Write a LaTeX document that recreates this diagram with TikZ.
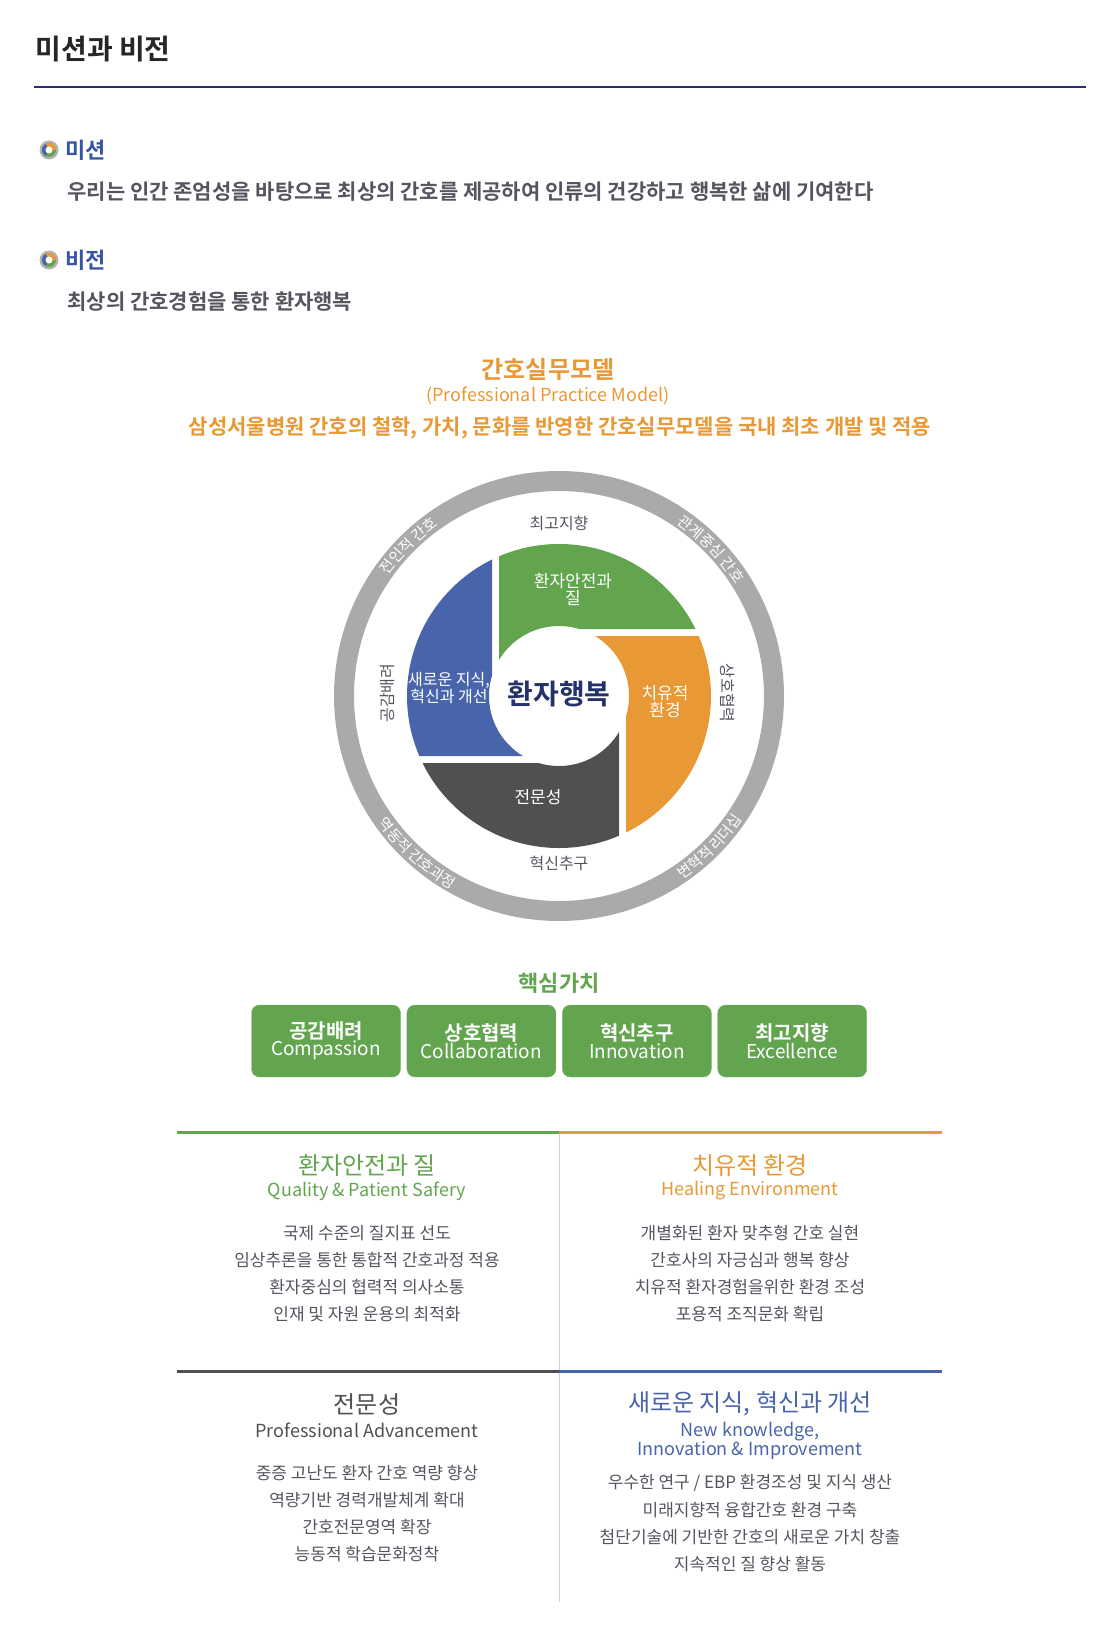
\documentclass[tikz,border=0pt]{standalone}
\usepackage{fontspec}
\setmainfont{Noto Sans CJK KR}[BoldFont={Noto Sans CJK KR Bold}]
\usetikzlibrary{positioning,decorations.text}
\definecolor{navy}{RGB}{35,50,105}
\definecolor{headblue}{RGB}{55,85,160}
\definecolor{bodygray}{RGB}{85,85,95}
\definecolor{ppmorange}{RGB}{232,152,52}
\definecolor{ppmgreen}{RGB}{98,165,78}
\definecolor{segblue}{RGB}{72,100,170}
\definecolor{seggray}{RGB}{80,80,82}
\definecolor{ringgray}{RGB}{170,170,170}
\tikzset{
    fs/.style={font=\fontsize{#1}{#1}\selectfont},
    fsb/.style={font=\fontsize{#1}{#1}\selectfont\bfseries},
    body/.style={text=bodygray, anchor=west, fsb=21},
    segtext/.style={text=white, align=center, fs=17},
    bandtext/.style={text=bodygray, fs=16},
    value/.style={fill=ppmgreen, draw=ppmgreen!80!white, rounded corners=8pt, minimum width=149pt, minimum height=72pt, text=white, align=center, inner sep=0pt},
    bullet/.style={text=bodygray, align=center, fs=17},
    ringlabel/.style={decorate, decoration={text along path, text align=center, text color=white, text format delimiters={|}{|}, text={|\fontsize{15}{15}\selectfont|#1}}}
}
\newcommand{\missionicon}[1]{%
    \fill[gray!60] #1 circle (9.5);
    \fill[ppmgreen] #1 circle (7);
    \fill[ppmorange] #1 -- ++(0:7) arc[start angle=0, end angle=-120, radius=7] -- cycle;
    \fill[segblue] #1 -- ++(-120:7) arc[start angle=-120, end angle=-240, radius=7] -- cycle;
    \fill[white] #1 circle (3.5);
}
\begin{document}
\begin{tikzpicture}[x=1pt, y=-1pt]
    \useasboundingbox (0,0) rectangle (1112,1640);

    % Header
    \node[anchor=west, fsb=28, text=black!85] (title) at (32,49) {미션과 비전};
    \draw[navy, line width=1.2pt] (34,87) -- (1086,87);

    % Mission and vision
    \missionicon{(49,150)}
    \node[anchor=west, text=headblue, fsb=22] (mission) at (62,150) {미션};
    \node[body] (missiontext) at (64,192) {우리는 인간 존엄성을 바탕으로 최상의 간호를 제공하여 인류의 건강하고 행복한 삶에 기여한다};
    \missionicon{(49,260)}
    \node[anchor=west, text=headblue, fsb=22] (vision) at (62,260) {비전};
    \node[body] (visiontext) at (64,302) {최상의 간호경험을 통한 환자행복};

    % Practice model title
    \node[text=ppmorange, fsb=24] (ppm) at (548,370) {간호실무모델};
    \node[text=ppmorange, fs=18] (ppmen) at (548,396) {(Professional Practice Model)};
    \node[text=ppmorange, fsb=21] (ppmsub) at (560,428) {삼성서울병원 간호의 철학, 가치, 문화를 반영한 간호실무모델을 국내 최초 개발 및 적용};

    % Model wheel
    \begin{scope}[shift={(559,696)}, x=1pt, y=1pt]
        \fill[ringgray, even odd rule] (0,0) circle (225) (0,0) circle (205);
        \foreach \segcol [count=\k from 0] in {ppmgreen, ppmorange, seggray, segblue} {
            \begin{scope}[rotate=-90*\k]
                \clip (-60,0) -- (-60,200) -- (200,200) -- (200,67) -- (0,67) -- (0,0) -- cycle;
                \fill[\segcol, even odd rule] (0,0) circle (152) (0,0) circle (70);
            \end{scope}
        }

        \node[segtext] (quality) at (14,106) {환자안전과\\질};
        \node[segtext] (healing) at (106,-6) {치유적\\환경};
        \node[segtext] (expert) at (-21,-101) {전문성};
        \node[segtext, fs=16] (knowledge) at (-110,8) {새로운 지식,\\혁신과 개선};
        \node[text=navy, fsb=28] (happy) at (0,2) {환자행복};

        \node[bandtext] (excel) at (0,173) {최고지향};
        \node[bandtext] (innov) at (0,-167) {혁신추구};
        \node[bandtext, rotate=-90] (collab) at (169,3) {상호협력};
        \node[bandtext, rotate=90] (compass) at (-171,3) {공감배려};

        \path[ringlabel={전인적 간호}] (157:209) arc[start angle=157, end angle=113, radius=209];
        \path[ringlabel={관계중심 간호}] (72:209) arc[start angle=72, end angle=16, radius=209];
        \path[ringlabel={변혁적 리더십}] (-75:221) arc[start angle=-75, end angle=-15, radius=221];
        \path[ringlabel={역동적 간호과정}] (-165:221) arc[start angle=-165, end angle=-99, radius=221];
    \end{scope}

    % Core values
    \node[text=ppmgreen, fsb=22] (core) at (559,983) {핵심가치};
    \node[value] (v1) at (326,1041) {{\fontsize{20}{24}\selectfont\bfseries 공감배려}\\{\fontsize{19}{22}\selectfont Compassion}};
    \node[value, right=6pt of v1] (v2) {{\fontsize{20}{24}\selectfont\bfseries 상호협력}\\{\fontsize{19}{22}\selectfont Collaboration}};
    \node[value, right=6pt of v2] (v3) {{\fontsize{20}{24}\selectfont\bfseries 혁신추구}\\{\fontsize{19}{22}\selectfont Innovation}};
    \node[value, right=6pt of v3] (v4) {{\fontsize{20}{24}\selectfont\bfseries 최고지향}\\{\fontsize{19}{22}\selectfont Excellence}};

    % Four domains
    \draw[gray!35, line width=1pt] (559,1132) -- (559,1602);
    \draw[ppmgreen, line width=3pt] (177,1132) -- (559,1132);
    \draw[ppmorange, line width=3pt] (559,1132) -- (942,1132);
    \draw[seggray, line width=3pt] (177,1371) -- (559,1371);
    \draw[segblue, line width=3pt] (559,1371) -- (942,1371);

    \node[text=ppmgreen, fs=24] (qhead) at (367,1165) {환자안전과 질};
    \node[text=ppmgreen, fs=18] (qen) at (367,1191) {Quality \& Patient Safery};
    \node[bullet] (qlist) at (367,1274) {국제 수준의 질지표 선도\\[10pt]임상추론을 통한 통합적 간호과정 적용\\[10pt]환자중심의 협력적 의사소통\\[10pt]인재 및 자원 운용의 최적화};

    \node[text=ppmorange, fs=24] (hhead) at (750,1165) {치유적 환경};
    \node[text=ppmorange, fs=18] (hen) at (750,1191) {Healing Environment};
    \node[bullet] (hlist) at (750,1274) {개별화된 환자 맞추형 간호 실현\\[10pt]간호사의 자긍심과 행복 향상\\[10pt]치유적 환자경험을위한 환경 조성\\[10pt]포용적 조직문화 확립};

    \node[text=seggray, fs=24] (ehead) at (367,1404) {전문성};
    \node[text=seggray, fs=18] (een) at (367,1430) {Professional Advancement};
    \node[bullet] (elist) at (367,1514) {중증 고난도 환자 간호 역량 향상\\[10pt]역량기반 경력개발체계 확대\\[10pt]간호전문영역 확장\\[10pt]능동적 학습문화정착};

    \node[text=segblue, fs=24] (khead) at (750,1404) {새로운 지식, 혁신과 개선};
    \node[text=segblue, fs=18, align=center] (ken) at (750,1441) {New knowledge,\\Innovation \& Improvement};
    \node[bullet] (klist) at (750,1523) {우수한 연구 / EBP 환경조성 및 지식 생산\\[10pt]미래지향적 융합간호 환경 구축\\[10pt]첨단기술에 기반한 간호의 새로운 가치 창출\\[10pt]지속적인 질 향상 활동};
\end{tikzpicture}
\end{document}
